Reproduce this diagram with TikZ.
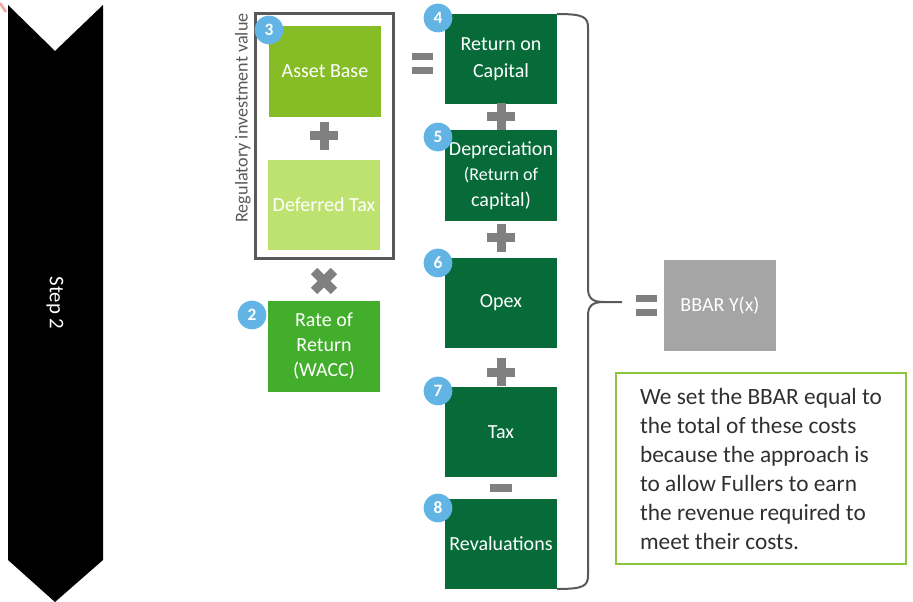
\documentclass[tikz,border=0pt]{standalone}
\usepackage{fontspec}
\setmainfont{Carlito}
\definecolor{cassets}{HTML}{86BC25}
\definecolor{cdefer}{HTML}{BEE270}
\definecolor{crate}{HTML}{42AE2C}
\definecolor{cdark}{HTML}{066B38}
\definecolor{cblue}{HTML}{62B4E5}
\definecolor{opgrey}{HTML}{808080}
\definecolor{cdgrey}{HTML}{595959}
\definecolor{cbbar}{HTML}{A5A5A5}
\definecolor{cbord}{HTML}{8CC63E}
\definecolor{ctext}{HTML}{303030}
\definecolor{cpink}{HTML}{F4A9A9}
\begin{document}
\begin{tikzpicture}[x=0.75pt,y=-0.75pt,
  box/.style={rectangle, minimum width=84pt, minimum height=68pt, inner sep=0pt,
    text=white, align=center, font=\fontsize{15}{19.5}\selectfont},
  num/.style={circle, fill=cblue, text=white, minimum size=21.5pt, inner sep=0pt,
    font=\fontsize{13}{13}\selectfont\bfseries},
  plussign/.pic={\fill[opgrey] (-14,-4.5) rectangle (14,4.5);
                 \fill[opgrey] (-4.5,-14) rectangle (4.5,14);},
  minussign/.pic={\fill[opgrey] (-11,-4) rectangle (11,4);},
  equalsign/.pic={\fill[opgrey] (-10.5,-10.5) rectangle (10.5,-3.5);
                  \fill[opgrey] (-10.5,3) rectangle (10.5,10.5);}]
\useasboundingbox (0,0) rectangle (913,602);

% pink fragment
\draw[cpink, line width=2pt] (0,3) -- (6,12);

% step arrow
\fill[black] (8,5) -- (55,51) -- (103,5) -- (103,560) -- (55,602) -- (8,560) -- cycle;
\node[rotate=-90, text=white, font=\fontsize{15.6}{16}\selectfont] (steplabel) at (55,303) {Step 2};

% regulatory investment value group
\node[draw=cdgrey, line width=2.25pt, minimum width=103.5pt, minimum height=183.75pt, inner sep=0pt] (riv) at (324.5,136) {};
\node[rotate=90, text=cdgrey, font=\fontsize{13.6}{14}\selectfont] (rivlabel) at (243,118) {Regulatory investment value};
\node[box, fill=cassets] (asset) at (325,71.5) {Asset Base};
\node[box, fill=cdefer] (defer) at (324,205) {Deferred Tax};
\pic at (324,136) {plussign};
\node[num] (n3) at (269,30) {3};

\pic[rotate=45] at (324,281) {plussign};
\node[box, fill=crate, font=\fontsize{15}{18.75}\selectfont] (rate) at (324,346.5) {Rate of\\Return\\(WACC)};
\node[num] (n2) at (252,315) {2};

\pic at (422.5,64) {equalsign};

% cost column
\node[box, fill=cdark, font=\fontsize{15}{20}\selectfont] (roc) at (501,59) {Return on\\Capital};
\node[num] (n4) at (438,18) {4};
\pic at (501,117) {plussign};
\node[box, fill=cdark, font=\fontsize{15}{19}\selectfont] (dep) at (501,175.5) {Depreciation\\\fontsize{13.5}{17.5}\selectfont(Return of\\capital)};
\node[num] (n5) at (438,137) {5};
\pic at (501,238) {plussign};
\node[box, fill=cdark] (opex) at (501,303) {Opex};
\node[num] (n6) at (438,263) {6};
\pic at (501,372) {plussign};
\node[box, fill=cdark] (tax) at (501,432) {Tax};
\node[num] (n7) at (438,391) {7};
\pic at (501,488) {minussign};
\node[box, fill=cdark] (reval) at (501,544) {Revaluations};
\node[num] (n8) at (438,508) {8};

% brace
\coordinate (btop) at (557,14);
\coordinate (bbot) at (557,589);
\coordinate (btip) at (622,302);
\draw[cdgrey, line width=1.5pt] (btop) .. controls (584,14) and (588,17) .. (588,28) -- (588,288)
  .. controls (588,298) and (592,302) .. (604,302) -- (btip);
\draw[cdgrey, line width=1.5pt] (604,302) .. controls (592,302) and (588,306) .. (588,316) -- (588,575)
  .. controls (588,586) and (584,589) .. (bbot);

\pic at (646,305.5) {equalsign};
\node[box, fill=cbbar] (bbar) at (720,305.5) {BBAR Y(x)};

% note
\node[draw=cbord, line width=1.5pt, minimum width=217.5pt, minimum height=143.25pt, inner sep=0pt,
  align=left, text=ctext, font=\fontsize{17.5}{21.75}\selectfont] (note) at (761,468.5)
  {We set the BBAR equal to\\the total of these costs\\because the approach is\\to allow Fullers to earn\\the revenue required to\\meet their costs.};
\end{tikzpicture}
\end{document}
